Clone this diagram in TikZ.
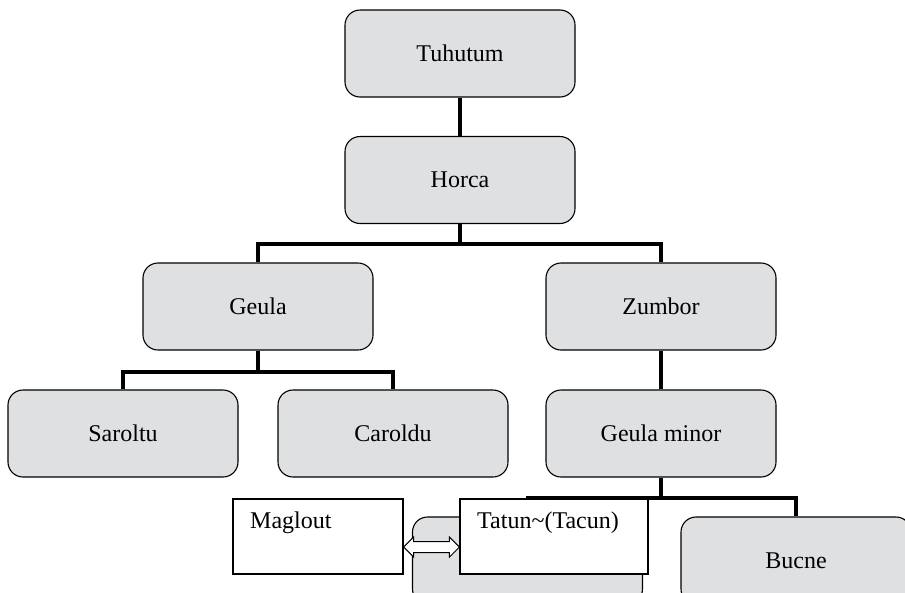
\documentclass[tikz,border=0pt]{standalone}
\usepackage{fontspec}
\setmainfont{Liberation Serif}
\usetikzlibrary{calc}
\definecolor{boxgray}{RGB}{223,224,226}
\begin{document}
\begin{tikzpicture}[x=1pt,y=-1pt,
  gbox/.style={draw, line width=1.1pt, fill=boxgray, rounded corners=15pt,
    minimum width=230pt, minimum height=87pt, inner sep=0pt,
    font=\fontsize{24}{28}\selectfont},
  wbox/.style={draw, line width=1.1pt, fill=white, minimum height=75pt, inner sep=0pt},
  conn/.style={line width=4pt},
  lbl/.style={anchor=west, inner sep=0pt, font=\fontsize{24}{28}\selectfont}]
\useasboundingbox (0,0) rectangle (905,592);
\clip (0,0) rectangle (905,592);
\fill[white] (0,0) rectangle (905,592);

% boxes
\node[gbox] (tuh) at (460,53.5) {Tuhutum};
\node[gbox] (hor) at (460,180) {Horca};
\node[gbox] (geu) at (258,306.5) {Geula};
\node[gbox] (zum) at (661,306.5) {Zumbor};
\node[gbox] (sar) at (123,433.5) {Saroltu};
\node[gbox] (car) at (393,433.5) {Caroldu};
\node[gbox] (gm) at (661,433.5) {Geula minor};
\node[gbox] (gry) at (527.5,560.5) {};
\node[gbox] (buc) at (796,560.5) {Bucne};

% connectors (drawn behind boxes)
\begin{scope}[on background layer/.style={}]
\end{scope}
\draw[conn] (tuh.south) -- (hor.north);
\draw[conn] (hor.south) -- ++(0,20) -| (geu.north);
\draw[conn] (hor.south) -- ++(0,20) -| (zum.north);
\draw[conn] (geu.south) -- ++(0,21) -| (sar.north);
\draw[conn] (geu.south) -- ++(0,21) -| (car.north);
\draw[conn] (zum.south) -- (gm.north);
\draw[conn] (gm.south) -- ++(0,20) -| (gry.north);
\draw[conn] (gm.south) -- ++(0,20) -| (buc.north);

% white boxes on top
\node[wbox, minimum width=170pt] (mag) at (318,536.5) {};
\node[wbox, minimum width=188pt] (tat) at (554,536.5) {};
\node[lbl] at (250,523) {Maglout};
\node[lbl] at (477,523) {Tatun\textasciitilde(Tacun)};

% double arrow
\coordinate (ay) at (0,547);
\coordinate (aL) at (mag.east |- ay);
\coordinate (aR) at (tat.west |- ay);
\draw[line width=1pt, fill=white, line join=miter]
  (aL) -- ++(10,-10) -- ++(0,4.5) -- ($(aR)+(-10,-5.5)$) -- ++(0,-4.5)
  -- (aR) -- ++(-10,10) -- ++(0,-4.5) -- ($(aL)+(10,5.5)$) -- ++(0,4.5) -- cycle;
\end{tikzpicture}
\end{document}
